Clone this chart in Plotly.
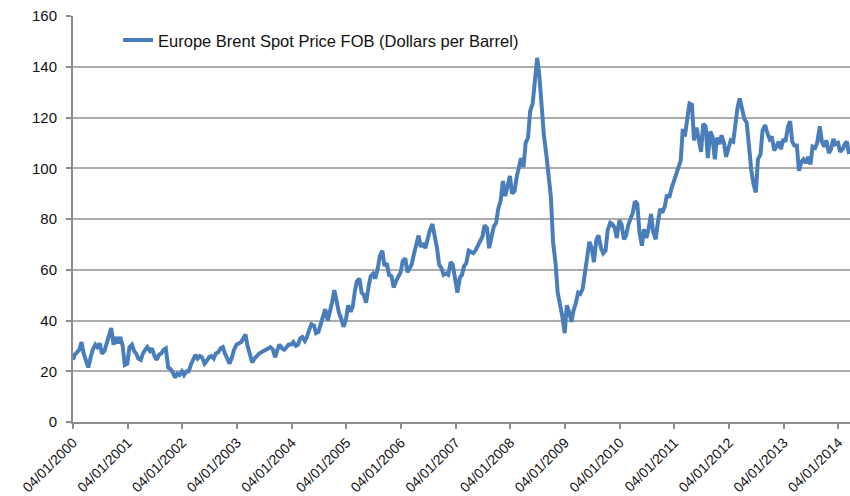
"""Brent spot price line chart, 2000-2014"""

import pandas as pd
import plotly.graph_objects as go

# semi-monthly readings (1st and 15th of each month), USD per barrel
brent_2000 = [24.5, 26.5, 27.5, 28.5, 31.5, 27.0, 24.0, 21.5, 25.5, 28.5, 30.5, 29.5,
              31.0, 27.0, 28.0, 31.0, 33.5, 37.0, 30.5, 33.5, 31.0, 33.5, 30.0, 22.5]
brent_2001 = [23.0, 29.5, 30.5, 28.0, 27.0, 25.0, 24.5, 27.0, 28.5, 29.5, 28.0, 29.0,
              26.0, 24.5, 26.5, 27.0, 28.5, 29.0, 21.5, 21.0, 19.5, 17.5, 19.0, 18.5]
brent_2002 = [20.0, 18.5, 20.0, 20.0, 22.5, 24.5, 26.5, 25.0, 26.0, 25.5, 23.0, 24.0,
              25.5, 26.0, 25.0, 27.0, 27.5, 29.0, 29.5, 27.0, 25.0, 23.0, 25.5, 28.5]
brent_2003 = [30.5, 31.0, 31.5, 33.0, 34.5, 30.0, 26.5, 23.5, 25.0, 26.0, 27.0, 27.5,
              28.0, 28.5, 29.0, 29.5, 28.5, 25.5, 28.5, 30.5, 29.0, 28.5, 29.5, 30.5]
brent_2004 = [30.5, 31.5, 30.0, 30.5, 33.0, 33.5, 32.0, 33.5, 36.5, 38.5, 38.0, 35.0,
              35.5, 38.5, 41.5, 44.5, 40.0, 43.0, 47.5, 52.0, 46.5, 43.0, 40.5, 37.5]
brent_2005 = [40.5, 46.0, 43.5, 45.5, 51.5, 55.5, 56.5, 51.0, 50.0, 47.0, 53.5, 57.5,
              58.5, 56.5, 60.5, 65.5, 67.5, 61.5, 62.5, 58.0, 57.5, 53.0, 55.5, 57.0]
brent_2006 = [59.0, 63.5, 64.5, 59.0, 61.0, 62.0, 66.5, 70.5, 73.5, 69.0, 70.5, 68.5,
              73.0, 75.5, 78.0, 74.0, 68.5, 62.0, 60.5, 58.0, 58.5, 58.0, 63.0, 62.0]
brent_2007 = [56.0, 51.0, 57.0, 58.0, 61.5, 62.5, 67.5, 67.0, 66.5, 67.5, 69.5, 71.5,
              73.0, 77.5, 76.5, 68.5, 73.5, 77.0, 78.5, 84.0, 87.5, 95.0, 89.0, 92.5]
brent_2008 = [97.0, 90.0, 91.0, 96.5, 101.5, 104.0, 100.5, 110.0, 112.0, 122.5, 125.5, 133.5,
              143.5, 137.0, 123.0, 113.0, 105.0, 95.5, 88.5, 71.0, 62.5, 51.0, 46.5, 42.0]
brent_2009 = [35.0, 46.0, 43.0, 39.5, 44.0, 46.5, 51.0, 50.5, 52.5, 58.0, 66.5, 71.0,
              68.5, 63.0, 72.0, 73.5, 68.5, 66.5, 67.5, 75.5, 78.5, 78.0, 76.5, 72.5]
brent_2010 = [79.5, 78.0, 72.0, 73.5, 77.5, 79.5, 82.5, 87.0, 86.0, 75.0, 69.5, 76.0,
              72.5, 76.0, 82.0, 75.0, 72.0, 78.5, 84.0, 82.5, 85.0, 89.5, 88.5, 92.0]
brent_2011 = [95.0, 98.0, 101.5, 103.0, 115.5, 112.5, 120.0, 125.5, 125.0, 111.0, 116.0, 110.5,
              106.5, 117.5, 116.5, 104.0, 114.5, 112.5, 103.5, 112.0, 109.5, 113.0, 110.0, 104.5]
brent_2012 = [108.5, 111.0, 110.5, 118.5, 124.0, 127.5, 122.5, 119.5, 118.0, 108.5, 99.0, 94.0,
              90.5, 103.5, 105.5, 115.0, 117.0, 114.0, 111.5, 112.5, 107.0, 108.5, 110.5, 107.5]
brent_2013 = [111.5, 110.5, 116.5, 118.5, 110.5, 109.0, 109.0, 99.0, 102.5, 103.5, 102.0, 104.5,
              101.5, 108.5, 108.0, 110.0, 116.5, 110.5, 108.5, 111.0, 106.0, 107.5, 111.5, 109.5]
brent_2014 = [110.0, 106.5, 107.5, 109.5, 110.5, 105.5]

tick_years = list(range(2000, 2015))
tick_labels = [f'04/01/{y}' for y in tick_years]

prices = (brent_2000 + brent_2001 + brent_2002 + brent_2003 + brent_2004 + brent_2005
          + brent_2006 + brent_2007 + brent_2008 + brent_2009 + brent_2010 + brent_2011
          + brent_2012 + brent_2013 + brent_2014)
dates = pd.date_range('2000-01-04', periods=len(prices), freq='SMS')
dates = [pd.Timestamp('2000-01-04')] + list(dates[:len(prices) - 1])

fig = go.Figure()

fig.add_trace(go.Scatter(
    x=dates,
    y=prices,
    mode='lines',
    name='Europe Brent Spot Price FOB (Dollars per Barrel)',
    line=dict(color='#4a7ebb', width=4),
))

axis_grey = '#8c8c8c'

fig.update_layout(
    width=850,
    height=496,
    plot_bgcolor='white',
    paper_bgcolor='white',
    margin=dict(l=73, r=0, t=16, b=74),
    font=dict(family='Liberation Sans, Arial, sans-serif', size=14, color='#111111'),
    showlegend=True,
    legend=dict(
        x=0.058, y=0.94, xanchor='left', yanchor='middle',
        bgcolor='rgba(0,0,0,0)', font=dict(size=16.5),
    ),
    xaxis=dict(
        type='date',
        range=['2000-01-04', '2014-03-22'],
        tickmode='array',
        tickvals=[f'{y}-01-04' for y in tick_years],
        ticktext=tick_labels,
        tickangle=-45,
        ticks='outside', ticklen=5, tickcolor=axis_grey, tickwidth=1.5,
        showgrid=False,
        showline=True, linecolor=axis_grey, linewidth=2,
        zeroline=False,
        automargin=False,
        tickfont=dict(size=14),
    ),
    yaxis=dict(
        range=[0, 160],
        dtick=20,
        ticks='outside', ticklen=5, tickcolor=axis_grey, tickwidth=1.5,
        ticklabelstandoff=6,
        showgrid=True, gridcolor='#ababab', gridwidth=1.5,
        showline=True, linecolor=axis_grey, linewidth=2,
        zeroline=False,
        automargin=False,
        tickfont=dict(size=15),
    ),
)

# drop the default page margin so the figure sits at the window's corner
fig.write_html('out.html', config={'displayModeBar': False},
               post_script="document.body.style.margin = '0';")
